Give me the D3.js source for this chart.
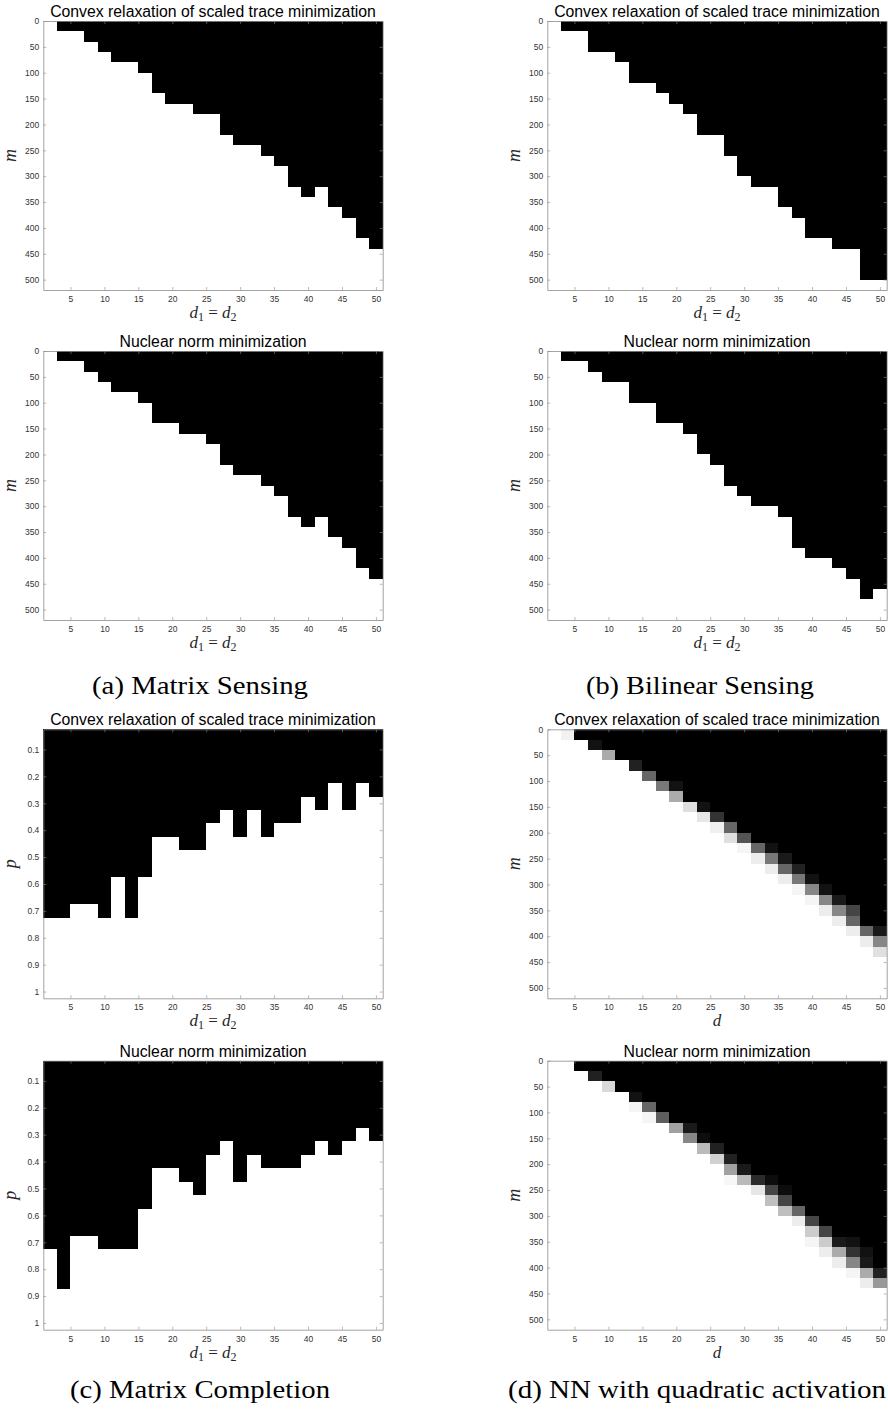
<!DOCTYPE html>
<html>
<head>
<meta charset="utf-8">
<script src="https://cdn.jsdelivr.net/npm/d3@7"></script>
<style>
  body { margin: 0; background: #fff; }
  svg { display: block; }
</style>
</head>
<body>
<div id="chart"></div>
<script>
// grid of the experiments
var dValues = [2, 4, 6, 8, 10, 12, 14, 16, 18, 20, 22, 24, 26, 28, 30, 32, 34, 36, 38, 40, 42, 44, 46, 48, 50];
var mRows = [10, 30, 50, 70, 90, 110, 130, 150, 170, 190, 210, 230, 250, 270, 290, 310, 330, 350, 370, 390, 410, 430, 450, 470, 490, 510];
var pRows = [0.05, 0.1, 0.15, 0.2, 0.25, 0.3, 0.35, 0.4, 0.45, 0.5, 0.55, 0.6, 0.65, 0.7, 0.75, 0.8, 0.85, 0.9, 0.95, 1];

var dTicks = [5, 10, 15, 20, 25, 30, 35, 40, 45, 50];
var mTicks = [0, 50, 100, 150, 200, 250, 300, 350, 400, 450, 500];
var pTicks = [0.1, 0.2, 0.3, 0.4, 0.5, 0.6, 0.7, 0.8, 0.9, 1];

// first m (or p) that succeeds, per d column
var msTraceEdge   = [0, 20, 20, 40, 60, 80, 80, 100, 140, 160, 160, 180, 180, 220, 240, 240, 260, 280, 320, 340, 320, 360, 380, 420, 440];
var msNuclearEdge = [0, 20, 20, 40, 60, 80, 80, 100, 140, 140, 160, 160, 180, 220, 240, 240, 260, 280, 320, 340, 320, 360, 380, 420, 440];
var bsTraceEdge   = [0, 20, 20, 60, 60, 80, 120, 120, 140, 160, 180, 220, 220, 260, 300, 320, 320, 360, 380, 420, 420, 440, 440, 500, 500];
var bsNuclearEdge = [0, 20, 20, 40, 60, 60, 100, 100, 140, 140, 160, 200, 220, 260, 280, 300, 300, 320, 380, 400, 400, 420, 440, 480, 460];
var mcTraceEdge   = [0.725, 0.725, 0.675, 0.675, 0.725, 0.575, 0.725, 0.575, 0.425, 0.425, 0.475, 0.475, 0.375, 0.325, 0.425, 0.325, 0.425, 0.375, 0.375, 0.275, 0.325, 0.225, 0.325, 0.225, 0.275];
var mcNuclearEdge = [0.725, 0.875, 0.675, 0.675, 0.725, 0.725, 0.725, 0.575, 0.425, 0.425, 0.475, 0.525, 0.375, 0.325, 0.475, 0.375, 0.425, 0.425, 0.425, 0.375, 0.325, 0.375, 0.325, 0.275, 0.325];

// NN panels: last all-fail m, then partial success rates of the cells below it
var nnTraceEdge   = [0, 0, 20, 20, 40, 60, 60, 80, 100, 100, 140, 140, 160, 180, 200, 220, 220, 240, 260, 280, 300, 320, 340, 380, 380];
var nnTraceGray = [
  [], [0.95], [], [0.07], [0.67], [], [0.13], [0.4], [0.47], [0.07, 0.67],
  [0.87], [0.07, 0.9], [0.2, 0.94], [0.4, 0.88], [0.33, 0.96], [0.4, 0.93],
  [0.07, 0.47, 0.93], [0.1, 0.4, 0.93], [0.13, 0.47, 0.96], [0.07, 0.53, 0.96],
  [0.07, 0.53, 0.93], [0.1, 0.53, 0.93], [0.27, 0.4, 0.93], [0.4, 0.93], [0.1, 0.53, 0.88]
];
var nnNuclearEdge = [0, 0, 20, 20, 40, 60, 60, 80, 100, 120, 120, 140, 160, 180, 200, 220, 220, 240, 280, 300, 320, 340, 340, 360, 400];
var nnNuclearGray = [
  [], [], [], [0.13], [0.85], [], [0.07, 0.96], [0.4, 0.96], [0.37], [0.63],
  [0.1, 0.53], [0.05, 0.73], [0.13, 0.82], [0.13, 0.63, 0.97], [0.1, 0.73], [0.17, 0.9],
  [0.05, 0.27, 0.75], [0.05, 0.27, 0.75], [0.4, 0.93], [0.27, 0.8, 0.96],
  [0.27, 0.8, 0.93], [0.1, 0.67, 0.93], [0.07, 0.2, 0.53, 0.96], [0.07, 0.1, 0.67, 0.93], [0.13, 0.6]
];

var captionTexts = ["(a) Matrix Sensing", "(b) Bilinear Sensing", "(c) Matrix Completion", "(d) NN with quadratic activation"];

var W = 888, H = 1410;
var axW = 339.4, axH = 269;
var leftX = 43.3, rightX = 547.3;
var tops = [21, 351, 729.3, 1060.7];

var svg = d3.select("#chart").append("svg")
    .attr("width", W)
    .attr("height", H);

var grey = d3.scaleLinear().domain([0, 1]).range(["#000", "#fff"]);

function binaryCells(edges, rows) {
    var cells = [];
    dValues.forEach(function(d, i) {
        rows.forEach(function(r) {
            cells.push({d: d, r: r, v: r < edges[i] ? 0 : 1});
        });
    });
    return cells;
}

function grayCells(edges, grays, rows, step) {
    var cells = [];
    dValues.forEach(function(d, i) {
        rows.forEach(function(r) {
            var v = 1;
            if (r < edges[i]) v = 0;
            else {
                var k = Math.round((r - step / 2 - edges[i]) / step);
                if (grays[i][k] !== undefined) v = grays[i][k];
            }
            cells.push({d: d, r: r, v: v});
        });
    });
    return cells;
}

function xLabelText(sel, single) {
    var t = sel.append("text")
        .attr("text-anchor", "middle")
        .attr("font-family", "'Liberation Serif', 'DejaVu Serif', serif")
        .attr("font-size", 17)
        .attr("fill", "#262626");
    t.append("tspan").attr("font-style", "italic").text("d");
    if (single) return;
    t.append("tspan").attr("font-size", 12).attr("dy", 3).text("1");
    t.append("tspan").attr("dy", -3).text(" = ");
    t.append("tspan").attr("font-style", "italic").text("d");
    t.append("tspan").attr("font-size", 12).attr("dy", 3).text("2");
}

function drawPanel(opt) {
    var g = svg.append("g");
    var x = d3.scaleLinear().domain([1, 51]).range([opt.left, opt.left + axW]);
    var y = d3.scaleLinear().domain(opt.yDomain).range([opt.top, opt.top + axH]);
    var step = opt.step;

    g.append("rect")
        .attr("x", opt.left).attr("y", opt.top)
        .attr("width", axW).attr("height", axH)
        .attr("fill", "#fff");

    g.selectAll(".cell")
        .data(opt.cells.filter(function(c) { return c.v < 1; }))
        .enter().append("rect")
        .attr("class", "cell")
        .attr("x", function(c) { return x(c.d - 1); })
        .attr("y", function(c) { return y(c.r - step / 2); })
        .attr("width", function(c) { return x(c.d + 1) - x(c.d - 1); })
        .attr("height", function(c) { return y(c.r + step / 2) - y(c.r - step / 2); })
        .attr("fill", function(c) { return grey(c.v); })
        .attr("shape-rendering", "crispEdges");

    var fmt = function(v) { return String(v); };

    var xb = g.append("g")
        .attr("transform", "translate(0," + (opt.top + axH) + ")")
        .call(d3.axisBottom(x).tickValues(dTicks).tickSizeInner(-3).tickSizeOuter(0).tickPadding(6).tickFormat(fmt));
    var yl = g.append("g")
        .attr("transform", "translate(" + opt.left + ",0)")
        .call(d3.axisLeft(y).tickValues(opt.yTicks).tickSizeInner(-3).tickSizeOuter(0).tickPadding(4).tickFormat(fmt));
    var xt = g.append("g")
        .attr("transform", "translate(0," + opt.top + ")")
        .call(d3.axisTop(x).tickValues(dTicks).tickSizeInner(-3).tickSizeOuter(0).tickFormat(""));
    var yr = g.append("g")
        .attr("transform", "translate(" + (opt.left + axW) + ",0)")
        .call(d3.axisRight(y).tickValues(opt.yTicks).tickSizeInner(-3).tickSizeOuter(0).tickFormat(""));

    [xb, yl, xt, yr].forEach(function(a) {
        a.select(".domain").attr("stroke", "#8c8c8c").attr("stroke-width", 0.8);
        a.selectAll(".tick line").attr("stroke", "#8c8c8c").attr("stroke-width", 0.6);
        a.selectAll(".tick text")
            .attr("font-family", "'Liberation Sans', Arial, sans-serif")
            .attr("font-size", 8.5)
            .attr("fill", "#333");
    });

    g.append("text")
        .attr("x", opt.left + axW / 2)
        .attr("y", opt.top - 4)
        .attr("text-anchor", "middle")
        .attr("font-family", "'Liberation Sans', Arial, sans-serif")
        .attr("font-size", 15.8)
        .attr("fill", "#000")
        .text(opt.title);

    var xl = g.append("g")
        .attr("transform", "translate(" + (opt.left + axW / 2) + "," + (opt.top + axH + 28) + ")");
    xLabelText(xl, opt.singleD);

    g.append("text")
        .attr("transform", "translate(" + (opt.left - 27) + "," + (opt.top + axH / 2) + ") rotate(-90)")
        .attr("text-anchor", "middle")
        .attr("font-family", "'Liberation Serif', 'DejaVu Serif', serif")
        .attr("font-style", "italic")
        .attr("font-size", 18)
        .attr("fill", "#262626")
        .text(opt.yLabel);
}

var traceTitle = "Convex relaxation of scaled trace minimization";
var nuclearTitle = "Nuclear norm minimization";
var mDomain = [0, 520], pDomain = [0.025, 1.025];

drawPanel({left: leftX, top: tops[0], title: traceTitle, yLabel: "m", yDomain: mDomain, yTicks: mTicks, step: 20,
    cells: binaryCells(msTraceEdge, mRows)});
drawPanel({left: leftX, top: tops[1], title: nuclearTitle, yLabel: "m", yDomain: mDomain, yTicks: mTicks, step: 20,
    cells: binaryCells(msNuclearEdge, mRows)});
drawPanel({left: rightX, top: tops[0], title: traceTitle, yLabel: "m", yDomain: mDomain, yTicks: mTicks, step: 20,
    cells: binaryCells(bsTraceEdge, mRows)});
drawPanel({left: rightX, top: tops[1], title: nuclearTitle, yLabel: "m", yDomain: mDomain, yTicks: mTicks, step: 20,
    cells: binaryCells(bsNuclearEdge, mRows)});
drawPanel({left: leftX, top: tops[2], title: traceTitle, yLabel: "p", yDomain: pDomain, yTicks: pTicks, step: 0.05,
    cells: binaryCells(mcTraceEdge, pRows)});
drawPanel({left: leftX, top: tops[3], title: nuclearTitle, yLabel: "p", yDomain: pDomain, yTicks: pTicks, step: 0.05,
    cells: binaryCells(mcNuclearEdge, pRows)});
drawPanel({left: rightX, top: tops[2], title: traceTitle, yLabel: "m", yDomain: mDomain, yTicks: mTicks, step: 20, singleD: true,
    cells: grayCells(nnTraceEdge, nnTraceGray, mRows, 20)});
drawPanel({left: rightX, top: tops[3], title: nuclearTitle, yLabel: "m", yDomain: mDomain, yTicks: mTicks, step: 20, singleD: true,
    cells: grayCells(nnNuclearEdge, nnNuclearGray, mRows, 20)});

// sub-figure captions, centred under each sub-figure
var capX = [200, 700, 200, 697];
var capY = [694, 694, 1398, 1398];
var capLen = [216, 228, 260, 378];
svg.selectAll(".caption")
    .data(captionTexts)
    .enter().append("text")
    .attr("class", "caption")
    .attr("x", function(c, i) { return capX[i]; })
    .attr("y", function(c, i) { return capY[i]; })
    .attr("text-anchor", "middle")
    .attr("textLength", function(c, i) { return capLen[i]; })
    .attr("lengthAdjust", "spacingAndGlyphs")
    .attr("font-family", "'Liberation Serif', 'DejaVu Serif', serif")
    .attr("font-size", 26)
    .attr("fill", "#000")
    .text(function(c) { return c; });
</script>
</body>
</html>
